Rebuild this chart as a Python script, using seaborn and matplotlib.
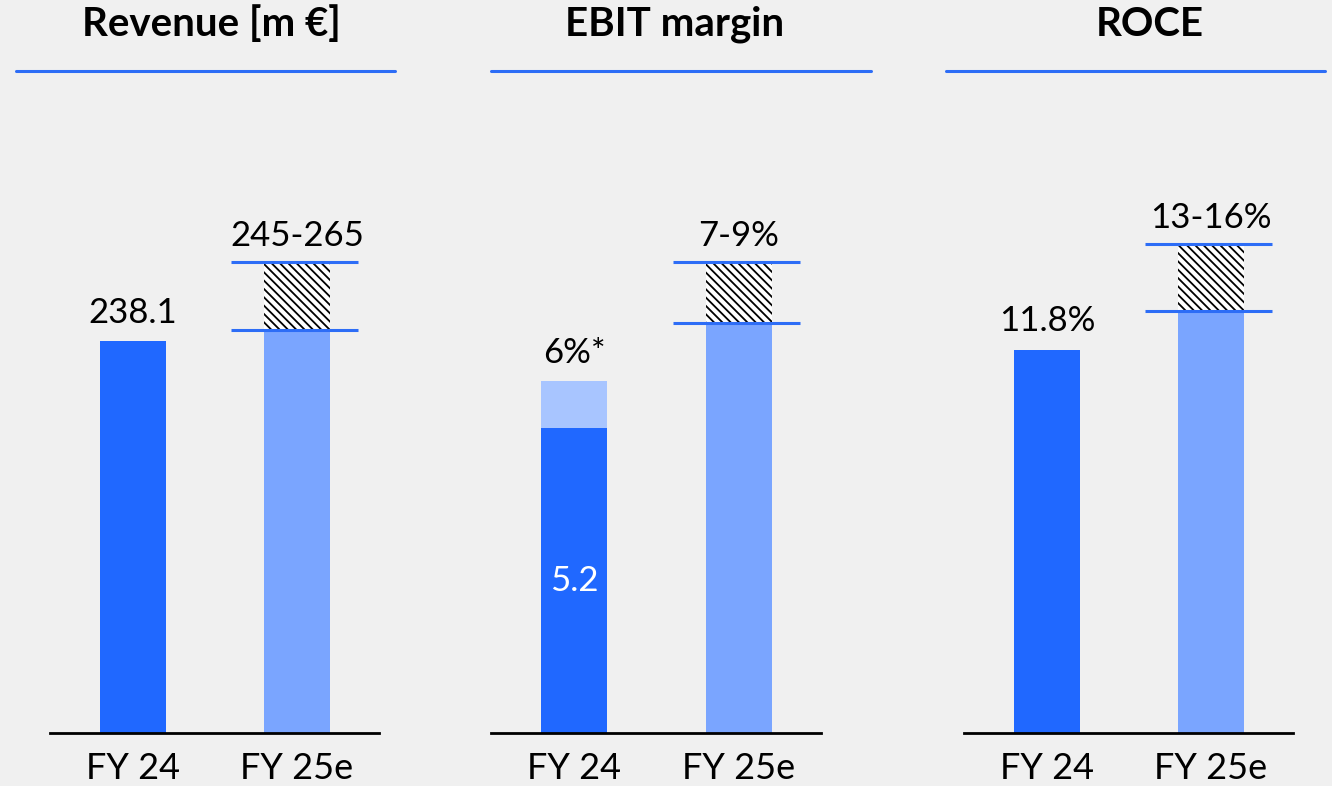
import numpy as np
import pandas as pd
import seaborn as sns
import matplotlib.pyplot as plt

sns.set_theme(style="white")
plt.rcParams['font.family'] = ['Lato', 'DejaVu Sans']
plt.rcParams['text.color'] = 'black'
plt.rcParams['xtick.color'] = 'black'
plt.rcParams['hatch.linewidth'] = 1.3
plt.rcParams['hatch.color'] = 'black'

# Data
titles = ['Revenue [m €]', 'EBIT margin', 'ROCE']
years = ['FY 24', 'FY 25e']
actual_fy24 = [238.1, 5.2, 11.8]
adjusted_fy24 = [None, 6.0, None]          # light stacked part on EBIT
range_low = [245, 7, 13]                   # FY 25e guidance, lower end
range_top_drawn = [286, 8.04, 15.06]       # where the hatched box ends in the picture
fy24_labels = ['238.1', '6%*', '11.8%']
fy25_labels = ['245-265', '7-9%', '13-16%']
inner_labels = [None, '5.2', None]
y_top = [384.5, 10.8, 19.5]

dark_blue = '#2068FF'
light_blue = '#7AA5FF'
pale_blue = '#A8C5FF'
line_blue = '#2D6DF6'
bg = '#F0F0F0'

fig = plt.figure(figsize=(13.32, 7.86), dpi=100, facecolor=bg)
W, H = 1332, 786

# axes boxes in pixels: left, right
panel_px = [(50, 379), (491, 821), (964, 1293)]
title_x = [211, 675, 1150]
title_line = [(16, 395), (491, 871), (946, 1325)]
base_y, top_y = 733, 100

for i in range(3):
    l, r = panel_px[i]
    ax = fig.add_axes([l / W, 1 - base_y / H, (r - l) / W, (base_y - top_y) / H])
    ax.set_facecolor(bg)

    df = pd.DataFrame({'year': years, 'value': [actual_fy24[i], range_low[i]]})
    sns.barplot(data=df, x='year', y='value', hue='year',
                palette=[dark_blue, light_blue], width=0.40,
                legend=False, ax=ax, saturation=1, linewidth=0)

    # hatched range box for guidance
    ax.bar(1, range_top_drawn[i] - range_low[i], bottom=range_low[i], width=0.40,
           color='white', edgecolor='black', hatch='\\\\\\\\', linewidth=0)
    for yv in (range_low[i], range_top_drawn[i]):
        ax.plot([1 - 0.40, 1 + 0.37], [yv, yv], color=line_blue, lw=2.2,
                solid_capstyle='butt')

    fy24_top = actual_fy24[i]
    if adjusted_fy24[i] is not None:
        ax.bar(0, adjusted_fy24[i] - actual_fy24[i], bottom=actual_fy24[i],
               width=0.40, color=pale_blue, linewidth=0)
        fy24_top = adjusted_fy24[i]
    if inner_labels[i] is not None:
        ax.text(0, actual_fy24[i] * 0.5, inner_labels[i], color='white',
                ha='center', va='center', fontsize=25)

    ax.annotate(fy24_labels[i], (0, fy24_top), xytext=(0, 9),
                textcoords='offset points', ha='center', va='bottom', fontsize=25)
    ax.annotate(fy25_labels[i], (1, range_top_drawn[i]), xytext=(0, 7),
                textcoords='offset points', ha='center', va='bottom', fontsize=25)

    ax.set_xlim(-0.506, 1.5)
    ax.set_ylim(0, y_top[i])
    ax.set_xlabel('')
    ax.set_ylabel('')
    ax.set_yticks([])
    ax.tick_params(axis='x', length=0, labelsize=26, pad=14)
    for s in ['top', 'left', 'right']:
        ax.spines[s].set_visible(False)
    ax.spines['bottom'].set_color('black')
    ax.spines['bottom'].set_linewidth(2)

    # header with blue rule
    fig.text(title_x[i] / W, 1 - 24 / H, titles[i], ha='center', va='center',
             fontsize=29, fontweight='bold')
    x0, x1 = title_line[i]
    fig.add_artist(plt.Line2D([x0 / W, x1 / W], [1 - 71 / H, 1 - 71 / H],
                              color=line_blue, lw=2.2))

fig.savefig('out.png', dpi=100, facecolor=bg)
